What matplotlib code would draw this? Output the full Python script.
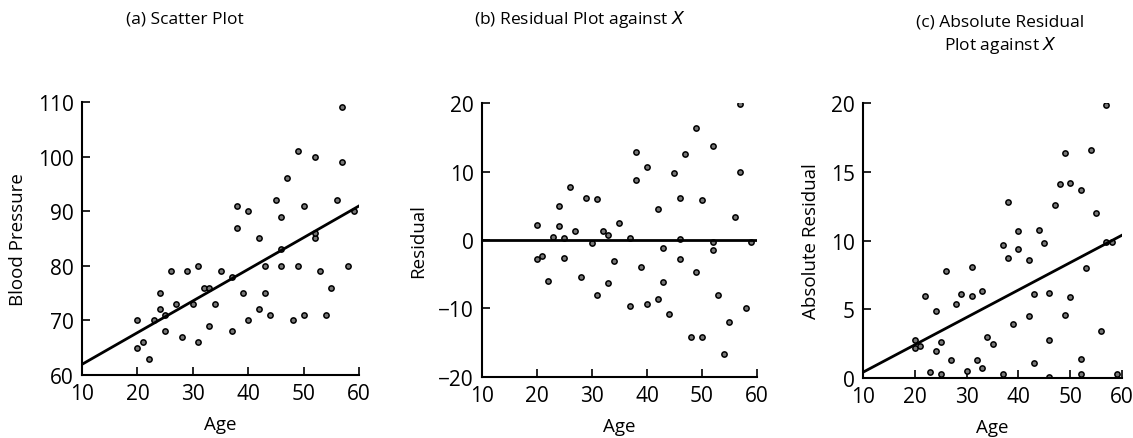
import numpy as np
import matplotlib.pyplot as plt

plt.rcParams['font.family'] = ['Open Sans', 'DejaVu Sans']

# age and diastolic blood pressure
age = [20, 20, 21, 22, 23, 24, 24, 25, 25, 26, 27, 28, 29, 30, 31, 31, 32, 33,
       33, 34, 35, 37, 37, 38, 38, 39, 40, 40, 42, 42, 43, 43, 44, 45, 46, 46,
       46, 47, 48, 49, 49, 50, 50, 52, 52, 52, 53, 54, 55, 56, 57, 57, 58, 59]
bp = [70, 65, 66, 63, 70, 75, 72, 71, 68, 79, 73, 67, 79, 73, 80, 66, 76, 69,
      76, 73, 79, 78, 68, 91, 87, 75, 90, 70, 85, 72, 80, 75, 71, 92, 89, 83,
      80, 96, 70, 101, 80, 91, 71, 100, 85, 86, 79, 71, 76, 92, 109, 99, 80, 90]

# residuals
res_age = [20, 20, 21, 22, 23, 24, 24, 25, 25, 26, 27, 28, 29, 30, 31, 31, 32, 33,
           33, 34, 35, 37, 37, 38, 38, 39, 40, 40, 42, 42, 43, 43, 44, 45, 46, 46,
           46, 47, 48, 49, 49, 50, 50, 52, 52, 52, 53, 54, 55, 56, 57, 57, 58, 59]
resid = [2.2, -2.8, -2.3, -6.0, 0.4, 4.9, 2.0, 0.3, -2.6, 7.8, 1.3, -5.4, 6.1,
         -0.5, 6.0, -8.1, 1.3, 0.7, -6.3, -3.0, 2.5, 0.3, -9.7, 12.8, 8.7, -3.9,
         10.7, -9.4, 4.5, -8.6, -1.1, -6.1, -10.8, 9.8, 6.2, 0.1, -2.8, 12.6,
         -14.1, 16.4, -4.6, 5.9, -14.2, 13.7, -0.3, -1.4, -8.0, -16.6, -12.0,
         3.4, 19.9, 9.9, -9.9, -0.3]

titles = ['(a) Scatter Plot', '(b) Residual Plot against $\\it{X}$',
          '(c) Absolute Residual\nPlot against $\\it{X}$']

fig = plt.figure(figsize=(11.33, 4.39), dpi=100)

ax_a = fig.add_axes([0.0724, 0.1435, 0.2445, 0.622])
ax_b = fig.add_axes([0.4254, 0.139, 0.2427, 0.624])
ax_c = fig.add_axes([0.7617, 0.1367, 0.2286, 0.626])

pt = dict(marker='o', ls='none', ms=3.8, mfc='#777777', mec='black', mew=1.1)
xs = np.array([10, 60])

# (a) scatter with fitted line
ax_a.plot(age, bp, **pt)
b1, b0 = np.polyfit(age, bp, 1)
ax_a.plot(xs, b0 + b1 * xs, color='black', lw=2.0)
ax_a.set_ylim(60, 110)
ax_a.set_yticks([60, 70, 80, 90, 100, 110])
ax_a.set_ylabel('Blood Pressure', fontsize=13.5, labelpad=8)

# (b) residuals
ax_b.plot(res_age, resid, **pt)
ax_b.axhline(0, color='black', lw=2.0)
ax_b.set_ylim(-20, 20)
ax_b.set_yticks([-20, -10, 0, 10, 20])
ax_b.set_yticklabels(['\u221220', '\u221210', '0', '10', '20'])
ax_b.set_ylabel('Residual', fontsize=13.5, labelpad=8)

# (c) absolute residuals with fitted line
abs_res = np.abs(resid)
c1, c0 = np.polyfit(res_age, abs_res, 1)
ax_c.plot(res_age, abs_res, **pt)
ax_c.plot(xs, c0 + c1 * xs, color='black', lw=2.0)
ax_c.set_ylim(0, 20)
ax_c.set_yticks([0, 5, 10, 15, 20])
ax_c.set_ylabel('Absolute Residual', fontsize=13.5, labelpad=8)

for ax in [ax_a, ax_b, ax_c]:
    ax.set_xlim(10, 60)
    ax.set_xticks([10, 20, 30, 40, 50, 60])
    ax.set_xlabel('Age', fontsize=13.5, labelpad=8)
    for s in ['top', 'right']:
        ax.spines[s].set_visible(False)
    for s in ['left', 'bottom']:
        ax.spines[s].set_linewidth(1.5)
    ax.tick_params(direction='in', length=6, width=1.2, labelsize=15, pad=6)

fig.text(0.163, 0.955, titles[0], ha='center', va='center', fontsize=12.5)
fig.text(0.512, 0.955, titles[1], ha='center', va='center', fontsize=12.5)
fig.text(0.883, 0.92, titles[2], ha='center', va='center', fontsize=12.5,
         linespacing=1.3)

fig.savefig('out.png', dpi=100)
